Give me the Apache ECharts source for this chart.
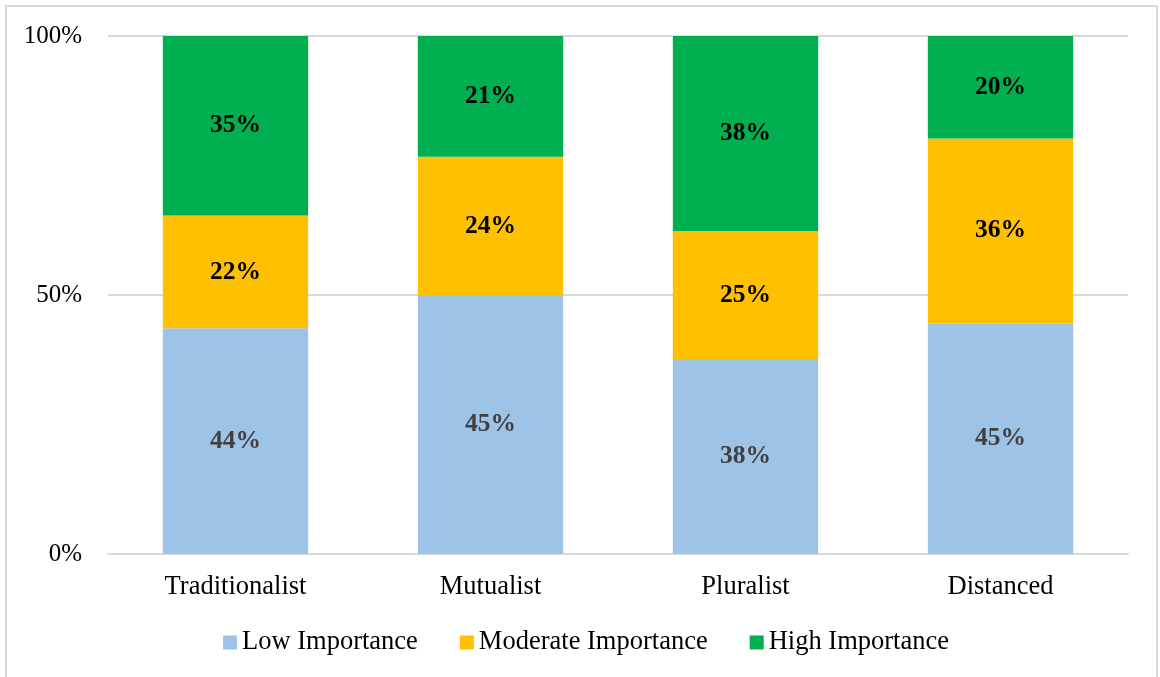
<!DOCTYPE html>
<html>
<head>
<meta charset="utf-8">
<script src="https://cdn.jsdelivr.net/npm/echarts@6/dist/echarts.min.js"></script>
<style>
  html, body { margin: 0; padding: 0; background: #fff; }
  #chart { width: 1160px; height: 677px; }
</style>
</head>
<body>
<div id="chart"></div>
<script>
const categories = ['Traditionalist', 'Mutualist', 'Pluralist', 'Distanced'];
const lowValues = [44, 45, 38, 45];
const moderateValues = [22, 24, 25, 36];
const highValues = [35, 21, 38, 20];
const yTicks = [0, 50, 100];

// 100% stacked: each column is scaled to its own total, labels keep the raw value
const totals = categories.map((c, i) => lowValues[i] + moderateValues[i] + highValues[i]);
const share = (arr) => arr.map((v, i) => ({ value: v / totals[i] * 100, raw: v }));

const font = 'Liberation Serif';

const makeSeries = (name, arr, color, labelColor) => ({
  name: name,
  type: 'bar',
  stack: 'total',
  barWidth: '57%',
  data: share(arr),
  itemStyle: { color: color },
  label: {
    show: true,
    position: 'inside',
    fontFamily: font,
    fontWeight: 'bold',
    fontSize: 25.5,
    color: labelColor,
    formatter: (p) => p.data.raw + '%'
  },
  emphasis: { disabled: true }
});

const chart = echarts.init(document.getElementById('chart'));
chart.setOption({
  animation: false,
  textStyle: { fontFamily: font },
  grid: { left: 108, right: 32, top: 36, bottom: 123 },
  legend: {
    top: 629,
    left: 223,
    padding: 0,
    itemWidth: 14,
    itemHeight: 14,
    itemGap: 42,
    icon: 'rect',
    textStyle: { fontFamily: font, fontSize: 26.5, color: '#000' },
    data: ['Low Importance', 'Moderate Importance', 'High Importance']
  },
  xAxis: {
    type: 'category',
    data: categories,
    axisLine: { lineStyle: { color: '#d9d9d9', width: 2 } },
    axisTick: { show: false },
    axisLabel: { fontFamily: font, fontSize: 26.5, color: '#000', margin: 20 }
  },
  yAxis: {
    type: 'value',
    min: yTicks[0],
    max: yTicks[yTicks.length - 1],
    interval: yTicks[1] - yTicks[0],
    axisLine: { show: false },
    axisTick: { show: false },
    splitLine: { lineStyle: { color: '#d9d9d9', width: 2 } },
    axisLabel: { fontFamily: font, fontSize: 25, color: '#000', margin: 26, formatter: '{value}%' }
  },
  graphic: [{
    type: 'rect',
    shape: { x: 6, y: 6, width: 1151, height: 700 },
    style: { fill: 'none', stroke: '#d9d9d9', lineWidth: 2 },
    silent: true
  }],
  series: [
    makeSeries('Low Importance', lowValues, '#9dc3e6', '#404040'),
    makeSeries('Moderate Importance', moderateValues, '#ffc000', '#000'),
    makeSeries('High Importance', highValues, '#00b050', '#000')
  ]
});
</script>
</body>
</html>
